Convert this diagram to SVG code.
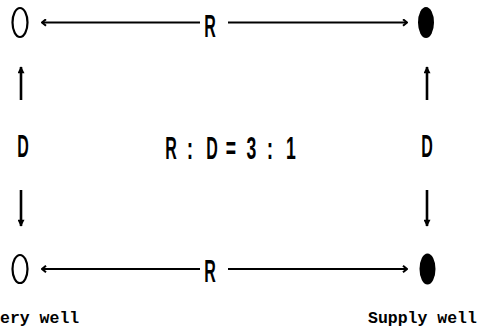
<svg xmlns="http://www.w3.org/2000/svg" width="484" height="332" viewBox="0 0 484 332">
<style>
.ln{stroke:#000;stroke-width:2;fill:none}
.vl{stroke:#000;stroke-width:2.6;fill:none}
.lbl{font-family:"Liberation Sans",Arial,sans-serif;font-weight:bold;font-size:32px;fill:#000;text-anchor:middle}
.cap{font-family:"Liberation Mono","Courier New",monospace;font-weight:bold;font-size:16.5px;fill:#000}
</style>
<defs>
<marker id="chev" viewBox="0 0 10 10" refX="9" refY="5" markerWidth="8" markerHeight="8" orient="auto-start-reverse" markerUnits="userSpaceOnUse">
<path d="M4,1 L9,5 L4,9" fill="none" stroke="#000" stroke-width="2.6"/>
</marker>
<marker id="tri" viewBox="0 0 10 10" refX="9" refY="5" markerWidth="11" markerHeight="7" orient="auto-start-reverse" markerUnits="userSpaceOnUse">
<path d="M0,0 L10,5 L0,10 Z" fill="#000"/>
</marker>
</defs>
<g id="connectors">
<line class="ln" x1="42" y1="22.5" x2="200" y2="22.5" marker-start="url(#chev)"/>
<line class="ln" x1="228" y1="22.5" x2="407" y2="22.5" marker-end="url(#chev)"/>
<line class="ln" x1="42" y1="269" x2="200" y2="269" marker-start="url(#chev)"/>
<line class="ln" x1="228" y1="269" x2="407" y2="269" marker-end="url(#chev)"/>
<line class="vl" x1="21" y1="100" x2="21" y2="67" marker-end="url(#tri)"/>
<line class="vl" x1="21" y1="190" x2="21" y2="226" marker-end="url(#tri)"/>
<line class="vl" x1="427" y1="100" x2="427" y2="67" marker-end="url(#tri)"/>
<line class="vl" x1="427" y1="190" x2="427" y2="226" marker-end="url(#tri)"/>
<text class="lbl" transform="translate(210,37) scale(0.5,1)">R</text>
<text class="lbl" transform="translate(210,282) scale(0.5,1)">R</text>
<text class="lbl" transform="translate(23,157) scale(0.5,1)">D</text>
<text class="lbl" transform="translate(427,157) scale(0.5,1)">D</text>
</g>
<g id="well-top-left"><ellipse cx="20" cy="22.5" rx="7.5" ry="14.5" fill="none" stroke="#000" stroke-width="2.2"/></g>
<g id="well-top-right"><ellipse cx="426" cy="22.5" rx="8" ry="15.5" fill="#000"/></g>
<g id="well-bottom-left"><ellipse cx="20" cy="269" rx="7.5" ry="14" fill="none" stroke="#000" stroke-width="2.2"/></g>
<g id="well-bottom-right"><ellipse cx="427.5" cy="269" rx="8" ry="15.5" fill="#000"/></g>
<g id="ratio">
<text class="lbl" transform="translate(171,159) scale(0.5,1)">R</text>
<text class="lbl" transform="translate(190,159) scale(0.6,1)">:</text>
<text class="lbl" transform="translate(212,159) scale(0.5,1)">D</text>
<text class="lbl" transform="translate(231,159) scale(0.55,1)">=</text>
<text class="lbl" transform="translate(251.5,159) scale(0.55,1)">3</text>
<text class="lbl" transform="translate(270,159) scale(0.6,1)">:</text>
<text class="lbl" transform="translate(291,159) scale(0.55,1)">1</text>
</g>
<g id="labels">
<text class="cap" x="0" y="323">ery well</text>
<text class="cap" x="368" y="323">Supply well</text>
</g>
</svg>
